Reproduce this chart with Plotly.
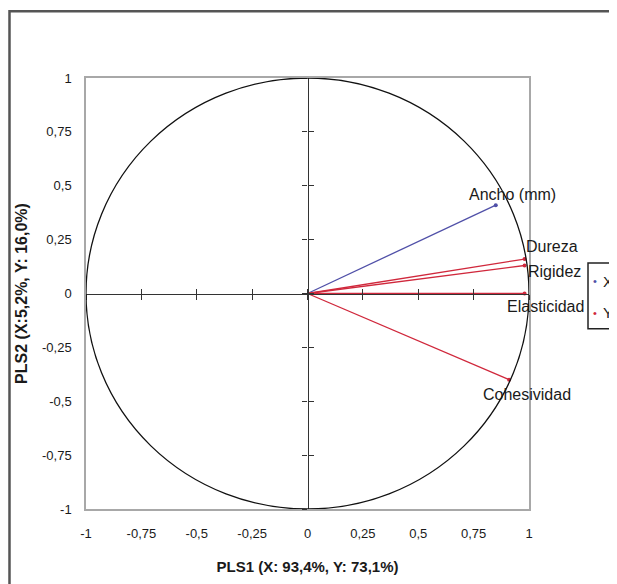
import plotly.graph_objects as go

# ---- data ----
x_names = ["Ancho (mm)"]
x_pls1 = [0.85]
x_pls2 = [0.41]

y_names = ["Dureza", "Rigidez", "Elasticidad", "Cohesividad"]
y_pls1 = [0.98, 0.98, 0.98, 0.91]
y_pls2 = [0.16, 0.13, 0.0, -0.40]

series_names = ["X", "Y"]

tick_vals = [-1, -0.75, -0.5, -0.25, 0, 0.25, 0.5, 0.75, 1]
tick_text = ["-1", "-0,75", "-0,5", "-0,25", "0", "0,25", "0,5", "0,75", "1"]

x_title = "PLS1 (X: 93,4%, Y: 73,1%)"
y_title = "PLS2 (X:5,2%, Y: 16,0%)"

BLUE = "#5050a8"
RED = "#d0283c"
FONT = "Liberation Sans, Arial, sans-serif"
TXT = "#1a1a1a"

fig = go.Figure()

# vectors
for xv, yv in zip(x_pls1, x_pls2):
    fig.add_trace(go.Scatter(x=[0, xv], y=[0, yv], mode="lines",
                             line=dict(color=BLUE, width=1.3), showlegend=False, hoverinfo="skip"))
for xv, yv in zip(y_pls1, y_pls2):
    fig.add_trace(go.Scatter(x=[0, xv], y=[0, yv], mode="lines",
                             line=dict(color=RED, width=1.3), showlegend=False, hoverinfo="skip"))

# end points (series X and Y)
fig.add_trace(go.Scatter(x=x_pls1, y=x_pls2, mode="markers", name=series_names[0],
                         marker=dict(color=BLUE, size=4), showlegend=False))
fig.add_trace(go.Scatter(x=y_pls1, y=y_pls2, mode="markers", name=series_names[1],
                         marker=dict(color=RED, size=4), showlegend=False))

# helper traces for crossing axes at zero
for i in (2, 3):
    fig.add_trace(go.Scatter(x=[None], y=[None], xaxis=f"x{i}", yaxis=f"y{i}",
                             showlegend=False, hoverinfo="skip"))

# labels
label_offsets = {
    "Ancho (mm)": dict(xanchor="center", xshift=17, yshift=11),
    "Dureza": dict(xanchor="left", xshift=-1, yshift=13),
    "Rigidez": dict(xanchor="left", xshift=1, yshift=-6),
    "Elasticidad": dict(xanchor="right", xshift=61, yshift=-13),
    "Cohesividad": dict(xanchor="center", xshift=18, yshift=-15),
}
for n, xv, yv in zip(x_names + y_names, x_pls1 + y_pls1, x_pls2 + y_pls2):
    o = label_offsets[n]
    fig.add_annotation(x=xv, y=yv, text=n, showarrow=False, xanchor=o["xanchor"],
                       yanchor="middle", xshift=o["xshift"], yshift=o["yshift"],
                       font=dict(family=FONT, size=16, color=TXT))

# unit circle
fig.add_shape(type="circle", xref="x", yref="y", x0=-1, y0=-1, x1=1, y1=1,
              line=dict(color="#111", width=1.3))

# outer border (chart frame)
fig.add_shape(type="rect", xref="paper", yref="paper", x0=-0.1727, y0=-0.5, x1=1.6, y1=1.155,
              line=dict(color="#555", width=2.5), layer="below")

# legend box (Excel style, cut at the right edge)
fig.add_shape(type="rect", xref="paper", yref="paper", x0=1.1332, y0=0.418, x1=1.4, y1=0.5708,
              line=dict(color="#222", width=1.5), fillcolor="white")
for name, col, yy in zip(series_names, [BLUE, RED], [0.529, 0.4548]):
    fig.add_annotation(x=1.150, y=yy, xref="paper", yref="paper", text="•", showarrow=False,
                       xanchor="center", yanchor="middle", font=dict(family=FONT, size=11, color=col))
    fig.add_annotation(x=1.1625, y=yy, xref="paper", yref="paper", text=name, showarrow=False,
                       xanchor="left", yanchor="middle", font=dict(family=FONT, size=15, color=TXT))

axis_common = dict(range=[-1, 1], tickvals=tick_vals, ticktext=tick_text,
                   showgrid=False, zeroline=False,
                   tickfont=dict(family=FONT, size=13, color=TXT))

fig.update_layout(
    width=609, height=576,
    margin=dict(l=78, r=88, t=70, b=75, autoexpand=False),
    paper_bgcolor="white", plot_bgcolor="white",
    font=dict(family=FONT, size=13, color=TXT),
    xaxis=dict(**axis_common, showline=True, mirror=True, linecolor="#a8a8a8", linewidth=1.5,
               ticks="", ticklabelstandoff=12,
               title=dict(text=f"<b>{x_title}</b>", font=dict(family=FONT, size=15, color=TXT), standoff=21)),
    yaxis=dict(**axis_common, showline=True, mirror=True, linecolor="#a8a8a8", linewidth=1.5,
               ticks="", ticklabelstandoff=10,
               title=dict(text=f"<b>{y_title}</b>", font=dict(family=FONT, size=16, color=TXT), standoff=10)),
    xaxis2=dict(range=[-1, 1], tickvals=tick_vals, overlaying="x", anchor="free", position=0.5,
                showline=True, linecolor="#333", linewidth=1.3, ticks="outside", ticklen=5,
                tickcolor="#333", showticklabels=False, showgrid=False, zeroline=False),
    yaxis2=dict(range=[-1, 1], tickvals=tick_vals, overlaying="y", anchor="free", position=0.5,
                showline=True, linecolor="#333", linewidth=1.3, ticks="outside", ticklen=5,
                tickcolor="#333", showticklabels=False, showgrid=False, zeroline=False),
    xaxis3=dict(range=[-1, 1], tickvals=tick_vals, overlaying="x", anchor="free", position=0.5,
                showline=False, ticks="inside", ticklen=5,
                tickcolor="#333", showticklabels=False, showgrid=False, zeroline=False),
    yaxis3=dict(range=[-1, 1], tickvals=tick_vals, overlaying="y", anchor="free", position=0.5,
                showline=False, ticks="inside", ticklen=5,
                tickcolor="#333", showticklabels=False, showgrid=False, zeroline=False),
    showlegend=False,
)

fig.write_html("out.html")
